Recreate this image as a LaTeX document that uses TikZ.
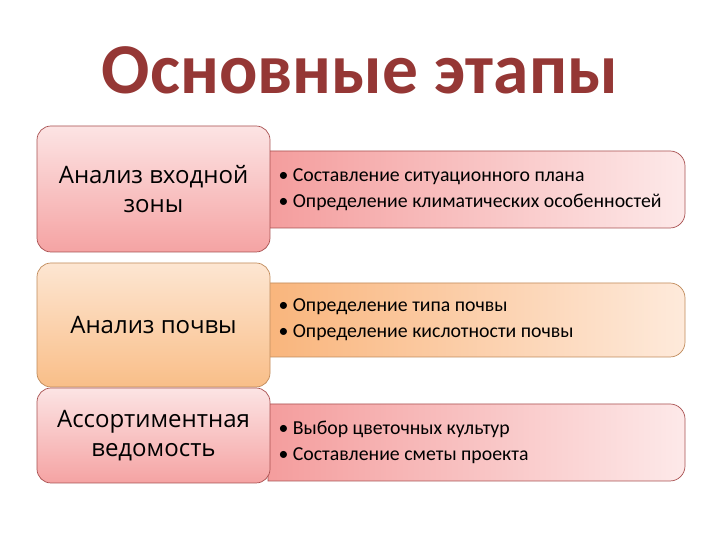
\documentclass[tikz,border=0pt]{standalone}
\usepackage{fontspec}
\setmainfont{Carlito}
\newfontfamily\boxfont{Open Sans}
\usetikzlibrary{positioning}
\definecolor{titlered}{HTML}{953735}
\definecolor{pinkT}{HTML}{FCE4E4}
\definecolor{pinkB}{HTML}{F5A3A3}
\definecolor{pinkL}{HTML}{F49D9D}
\definecolor{pinkR}{HTML}{FDE9E9}
\definecolor{pinkD}{HTML}{A85050}
\definecolor{orT}{HTML}{FDE6D2}
\definecolor{orB}{HTML}{F9BE88}
\definecolor{orL}{HTML}{F9B57C}
\definecolor{orR}{HTML}{FEEADB}
\definecolor{orD}{HTML}{C08A5A}
\tikzset{
  lbox/.style={draw, line width=0.7pt, rounded corners=14pt, minimum width=233pt, align=center, font=\boxfont\fontsize{24}{29}\selectfont, inner sep=0pt},
  rtext/.style={anchor=west, font=\fontsize{19.8}{26}\selectfont, align=left},
}
\begin{document}
\begin{tikzpicture}[x=1pt,y=1pt]
\useasboundingbox[fill=white] (0,0) rectangle (720,540);
\node[text=titlered, font=\bfseries\fontsize{71.5}{80}\selectfont] (title) at (360,470) {Основные этапы};
% right boxes
\path[draw=pinkD, line width=0.7pt, left color=pinkL, right color=pinkR]
  (268,389) -- (670,389) arc[start angle=90,end angle=0,radius=15] -- (685,327) arc[start angle=0,end angle=-90,radius=15] -- (268,312) -- cycle;
\node[rtext] (r1) at (275,350.5) {\textbullet\ Составление ситуационного плана\\\textbullet\ Определение климатических особенностей};
\path[draw=orD, line width=0.7pt, left color=orL, right color=orR]
  (268,257) -- (670,257) arc[start angle=90,end angle=0,radius=15] -- (685,198) arc[start angle=0,end angle=-90,radius=15] -- (268,183) -- cycle;
\node[rtext] (r2) at (275,220) {\textbullet\ Определение типа почвы\\\textbullet\ Определение кислотности почвы};
\path[draw=pinkD, line width=0.7pt, left color=pinkL, right color=pinkR]
  (268,136) -- (670,136) arc[start angle=90,end angle=0,radius=15] -- (685,74) arc[start angle=0,end angle=-90,radius=15] -- (268,59) -- cycle;
\node[rtext] (r3) at (275,98) {\textbullet\ Выбор цветочных культур\\\textbullet\ Составление сметы проекта};
% left boxes
\node[lbox, draw=pinkD, top color=pinkT, bottom color=pinkB, minimum height=126pt] (l1) at (153.5,351) {Анализ входной\\зоны};
\node[lbox, draw=orD, top color=orT, bottom color=orB, minimum height=124pt] (l2) at (153.5,215) {Анализ почвы};
\node[lbox, draw=pinkD, top color=pinkT, bottom color=pinkB, minimum height=95pt] (l3) at (153.5,104.5) {Ассортиментная\\ведомость};
\end{tikzpicture}
\end{document}
